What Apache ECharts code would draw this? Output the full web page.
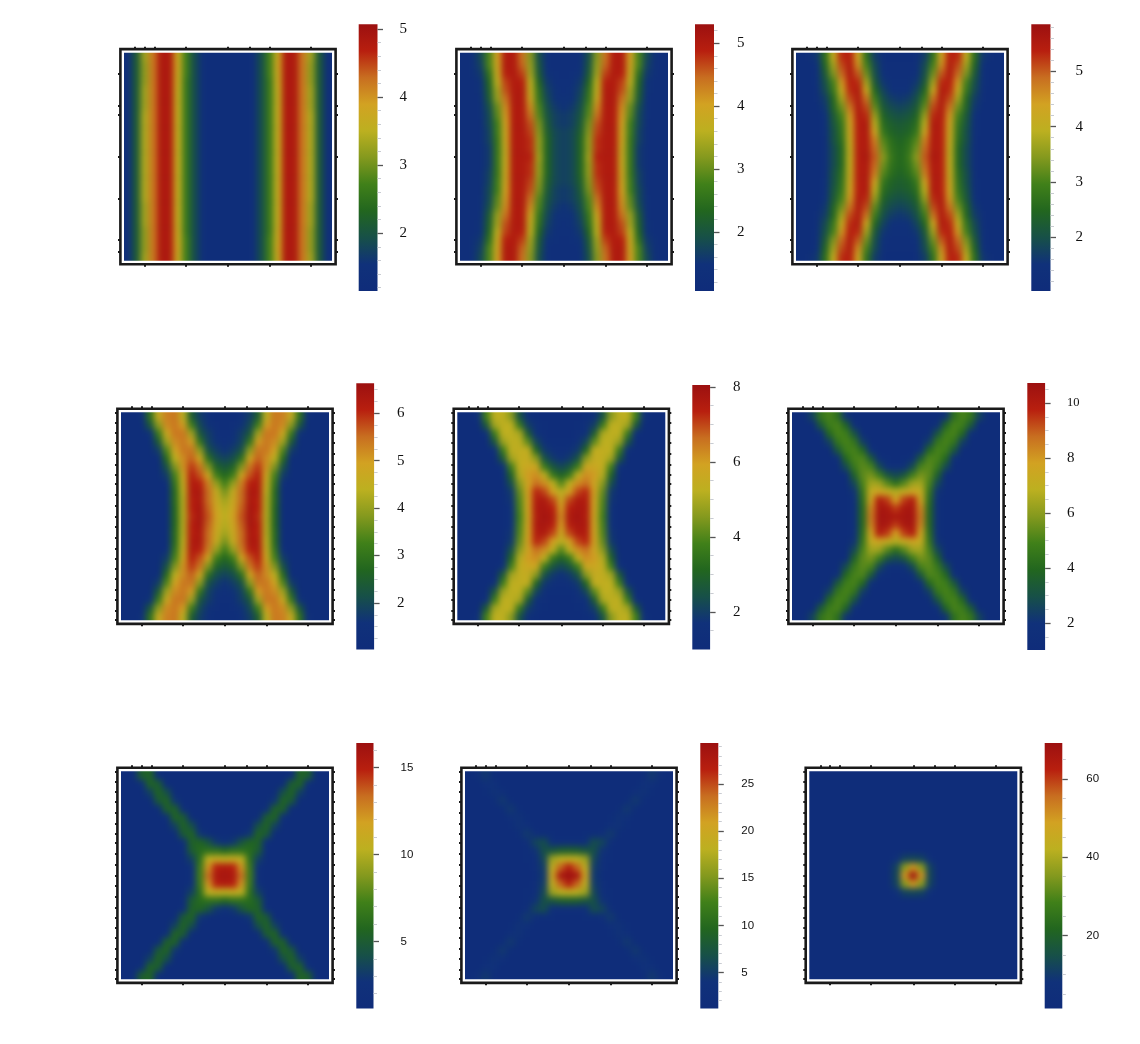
<!DOCTYPE html>
<html><head><meta charset="utf-8">
<script src="https://cdn.jsdelivr.net/npm/echarts@6/dist/echarts.min.js"></script>
<style>
html,body{margin:0;padding:0;background:#fff}
#clip,#blur,#top{position:absolute;left:0;top:0;width:1140px;height:1044px}
#blur{filter:blur(3px)}
</style></head><body>
<div id="clip"><div id="blur"></div></div><div id="top"></div>
<script>
// Each panel: top-left quadrant (rows top edge -> centre, columns left edge -> centre)
const panel1=[
[1.4,2.1,3.3,4.2,4.8,4.8,3.7,2.7,1.9,1.4,1.3,1.3,1.3],
[1.4,2.1,3.2,4.2,4.8,4.8,3.8,2.7,1.9,1.4,1.3,1.3,1.3],
[1.4,2.1,3.2,4.2,4.8,4.8,3.7,2.7,1.9,1.4,1.3,1.3,1.3],
[1.4,2.1,3.2,4.2,4.8,4.8,3.7,2.6,1.9,1.4,1.3,1.3,1.3],
[1.4,2.1,3.3,4.2,4.8,4.8,3.6,2.6,1.9,1.4,1.3,1.3,1.3],
[1.4,2.1,3.3,4.2,4.8,4.8,3.6,2.6,1.9,1.4,1.3,1.3,1.3],
[1.4,2.1,3.3,4.2,4.8,4.8,3.6,2.6,1.9,1.4,1.3,1.3,1.3],
[1.4,2.1,3.4,4.2,4.8,4.8,3.6,2.6,1.9,1.4,1.3,1.3,1.3],
[1.4,2.1,3.4,4.2,4.8,4.8,3.6,2.6,1.9,1.4,1.3,1.3,1.3],
[1.4,2.1,3.4,4.2,4.8,4.8,3.6,2.6,1.9,1.4,1.3,1.3,1.3],
[1.4,2.1,3.4,4.2,4.8,4.8,3.6,2.6,1.9,1.4,1.3,1.3,1.3],
[1.4,2.1,3.4,4.2,4.8,4.8,3.6,2.6,1.9,1.4,1.3,1.3,1.3],
[1.4,2.1,3.4,4.2,4.8,4.8,3.6,2.6,1.9,1.4,1.3,1.3,1.3]];
const panel2=[
[1.3,1.4,1.8,2.8,4.0,5.0,5.0,4.4,3.2,1.9,1.4,1.3,1.3],
[1.3,1.4,1.7,2.8,3.9,5.0,5.0,4.5,3.3,2.0,1.4,1.3,1.3],
[1.3,1.4,1.6,2.5,3.8,4.9,5.0,4.7,3.4,2.1,1.5,1.4,1.3],
[1.3,1.3,1.5,2.3,3.6,4.7,5.0,4.9,3.6,2.3,1.6,1.4,1.4],
[1.3,1.3,1.5,2.2,3.4,4.6,5.0,5.0,3.7,2.5,1.7,1.5,1.4],
[1.3,1.3,1.4,2.1,3.3,4.4,5.0,5.0,3.9,2.6,1.8,1.5,1.5],
[1.3,1.3,1.4,1.9,3.0,4.2,5.0,5.0,4.2,2.8,1.9,1.6,1.5],
[1.3,1.3,1.4,1.8,2.9,4.1,5.0,5.0,4.4,2.9,2.0,1.7,1.6],
[1.3,1.3,1.3,1.8,2.7,4.0,5.0,5.0,4.6,3.1,2.1,1.7,1.6],
[1.3,1.3,1.3,1.7,2.7,3.9,5.0,5.0,4.7,3.2,2.2,1.8,1.7],
[1.3,1.3,1.3,1.7,2.6,3.9,5.0,5.0,4.8,3.3,2.3,1.8,1.7],
[1.3,1.3,1.3,1.6,2.6,3.8,5.0,5.0,4.8,3.3,2.3,1.8,1.7],
[1.3,1.3,1.3,1.6,2.6,3.8,5.0,5.0,4.9,3.4,2.3,1.8,1.7]];
const panel3=[
[1.2,1.3,1.6,2.6,4.0,5.3,5.4,4.3,2.7,1.7,1.3,1.2,1.2],
[1.2,1.2,1.5,2.4,3.7,5.1,5.5,4.6,3.0,1.9,1.4,1.3,1.3],
[1.2,1.2,1.4,2.2,3.4,4.9,5.5,5.0,3.3,2.0,1.5,1.3,1.3],
[1.2,1.2,1.4,2.0,3.0,4.5,5.4,5.3,3.7,2.2,1.6,1.4,1.4],
[1.2,1.2,1.3,1.9,2.8,4.1,5.3,5.5,4.2,2.5,1.8,1.5,1.5],
[1.2,1.2,1.3,1.7,2.5,3.7,5.1,5.5,4.8,2.9,2.0,1.7,1.6],
[1.2,1.2,1.2,1.6,2.4,3.3,4.8,5.5,5.1,3.2,2.2,1.9,1.8],
[1.2,1.2,1.2,1.5,2.2,3.0,4.5,5.5,5.3,3.6,2.4,2.1,2.0],
[1.2,1.2,1.2,1.4,2.1,2.8,4.3,5.4,5.5,3.9,2.6,2.3,2.2],
[1.2,1.2,1.2,1.4,2.0,2.7,4.2,5.4,5.5,4.3,2.8,2.4,2.3],
[1.2,1.2,1.2,1.3,2.0,2.6,4.1,5.4,5.5,4.7,3.1,2.6,2.4],
[1.2,1.2,1.2,1.3,1.9,2.5,4.0,5.4,5.5,4.9,3.3,2.7,2.5],
[1.2,1.2,1.2,1.3,1.9,2.5,4.0,5.4,5.6,5.0,3.5,2.8,2.5]];
const panel4=[
[1.2,1.2,1.5,2.9,4.6,5.3,5.4,4.4,2.5,1.8,1.5,1.3,1.2],
[1.2,1.2,1.2,2.3,3.9,5.2,5.4,5.0,3.2,2.0,1.6,1.4,1.3],
[1.2,1.2,1.2,1.6,3.1,4.7,5.4,5.4,4.1,2.3,1.8,1.5,1.4],
[1.2,1.2,1.2,1.3,2.4,4.1,5.2,5.4,5.0,3.0,1.9,1.6,1.5],
[1.2,1.2,1.2,1.2,1.8,3.4,4.9,5.4,5.4,3.9,2.2,1.8,1.6],
[1.2,1.2,1.2,1.2,1.3,2.8,4.4,5.2,5.6,4.8,2.9,2.1,1.9],
[1.2,1.2,1.2,1.2,1.2,2.2,3.8,5.1,5.9,5.4,3.8,2.6,2.3],
[1.2,1.2,1.2,1.2,1.2,1.8,3.3,4.8,6.1,5.7,4.8,3.2,2.7],
[1.2,1.2,1.2,1.2,1.2,1.4,3.0,4.6,6.2,6.1,5.3,4.0,3.2],
[1.2,1.2,1.2,1.2,1.2,1.3,2.8,4.4,6.2,6.3,5.5,4.6,3.7],
[1.2,1.2,1.2,1.2,1.2,1.3,2.8,4.3,6.1,6.3,5.5,4.7,4.1],
[1.2,1.2,1.2,1.2,1.2,1.2,2.7,4.3,6.1,6.4,5.6,4.8,4.3],
[1.2,1.2,1.2,1.2,1.2,1.2,2.7,4.3,6.0,6.4,5.7,4.9,4.4]];
const panel5=[
[1.2,1.2,1.7,3.8,5.3,5.3,4.6,2.5,1.6,1.3,1.2,1.2,1.2],
[1.2,1.2,1.2,2.7,4.9,5.3,5.3,3.6,2.0,1.5,1.3,1.2,1.2],
[1.2,1.2,1.2,1.6,3.7,5.3,5.3,5.0,2.8,1.7,1.4,1.2,1.2],
[1.2,1.2,1.2,1.2,2.6,4.8,5.3,5.3,4.1,2.2,1.6,1.3,1.3],
[1.2,1.2,1.2,1.2,1.6,3.7,5.3,5.4,5.4,3.1,1.9,1.5,1.4],
[1.2,1.2,1.2,1.2,1.2,2.7,4.9,5.4,5.5,4.6,2.5,1.9,1.7],
[1.2,1.2,1.2,1.2,1.2,1.7,3.8,5.4,5.7,5.7,3.7,2.6,2.2],
[1.2,1.2,1.2,1.2,1.2,1.3,3.0,5.1,6.0,6.2,5.3,3.6,3.0],
[1.2,1.2,1.2,1.2,1.2,1.2,2.4,4.6,5.8,6.6,6.2,5.3,4.0],
[1.2,1.2,1.2,1.2,1.2,1.2,1.9,4.2,5.9,7.3,7.0,5.9,5.2],
[1.2,1.2,1.2,1.2,1.2,1.2,1.8,4.0,5.8,7.5,7.6,7.0,5.6],
[1.2,1.2,1.2,1.2,1.2,1.2,1.7,3.9,5.8,7.6,7.7,7.4,6.0],
[1.2,1.2,1.2,1.2,1.2,1.2,1.7,3.8,5.7,7.5,7.8,7.6,6.2]];
const panel6=[
[1.2,1.2,2.6,4.5,5.0,4.3,2.1,1.3,1.2,1.2,1.2,1.2,1.2],
[1.2,1.2,1.2,3.4,4.8,5.0,3.8,1.8,1.3,1.2,1.2,1.2,1.2],
[1.2,1.2,1.2,1.7,4.0,5.0,4.8,3.1,1.5,1.2,1.2,1.2,1.2],
[1.2,1.2,1.2,1.2,2.5,4.5,5.0,4.5,2.4,1.3,1.2,1.2,1.2],
[1.2,1.2,1.2,1.2,1.3,3.3,4.8,5.0,4.0,1.9,1.3,1.2,1.2],
[1.2,1.2,1.2,1.2,1.2,1.7,4.0,5.0,5.1,3.4,1.7,1.4,1.3],
[1.2,1.2,1.2,1.2,1.2,1.2,2.8,4.6,5.3,5.0,2.8,1.9,1.7],
[1.2,1.2,1.2,1.2,1.2,1.2,1.2,3.7,5.3,5.7,4.8,3.2,2.7],
[1.2,1.2,1.2,1.2,1.2,1.2,1.2,2.7,5.0,6.4,6.3,5.2,4.2],
[1.2,1.2,1.2,1.2,1.2,1.2,1.2,2.1,4.5,7.2,7.6,7.2,6.7],
[1.2,1.2,1.2,1.2,1.2,1.2,1.2,1.8,4.2,7.6,10.0,9.4,7.8],
[1.2,1.2,1.2,1.2,1.2,1.2,1.2,1.8,4.0,8.3,10.3,10.2,9.4],
[1.2,1.2,1.2,1.2,1.2,1.2,1.2,1.8,4.0,8.5,10.4,10.3,10.2]];
const panel7=[
[1.5,1.7,5.2,5.5,2.1,1.5,1.5,1.5,1.5,1.5,1.5,1.5,1.5],
[1.5,1.5,2.3,5.5,5.1,1.7,1.5,1.5,1.5,1.5,1.5,1.5,1.5],
[1.5,1.5,1.5,3.4,5.6,4.2,1.5,1.5,1.5,1.5,1.5,1.5,1.5],
[1.5,1.5,1.5,1.6,4.8,5.6,2.9,1.5,1.5,1.5,1.5,1.5,1.5],
[1.5,1.5,1.5,1.5,1.8,5.3,5.4,2.0,1.5,1.5,1.5,1.5,1.5],
[1.5,1.5,1.5,1.5,1.5,2.5,5.6,5.0,1.7,1.5,1.5,1.5,1.5],
[1.5,1.5,1.5,1.5,1.5,1.5,3.5,5.6,4.2,1.6,1.5,1.5,1.5],
[1.5,1.5,1.5,1.5,1.5,1.5,1.6,4.9,5.6,2.9,1.8,1.6,1.5],
[1.5,1.5,1.5,1.5,1.5,1.5,1.5,2.0,5.4,5.6,4.5,3.0,2.6],
[1.5,1.5,1.5,1.5,1.5,1.5,1.5,1.9,5.0,6.0,6.4,6.4,5.8],
[1.5,1.5,1.5,1.5,1.5,1.5,1.5,1.6,3.4,6.2,10.4,10.8,10.4],
[1.5,1.5,1.5,1.5,1.5,1.5,1.5,1.5,2.4,6.8,12.2,15.0,15.3],
[1.5,1.5,1.5,1.5,1.5,1.5,1.5,1.5,2.2,7.0,13.2,15.5,15.8]];
const panel8=[
[2,2.7,4.6,2.2,2,2,2,2,2,2,2,2,2],
[2,2,3.4,4.0,2,2,2,2,2,2,2,2,2],
[2,2,2.2,4.1,3.2,2,2,2,2,2,2,2,2],
[2,2,2,2.2,4.6,2.5,2,2,2,2,2,2,2],
[2,2,2,2,2.5,4.6,2.2,2,2,2,2,2,2],
[2,2,2,2,2,3.2,4.1,2.2,2,2,2,2,2],
[2,2,2,2,2,2.2,4.1,3.4,2,2,2,2,2],
[2,2,2,2,2,2,2.2,4.8,3.0,2.3,2.1,2,2],
[2,2,2,2,2,2,2,3.0,5.8,6.5,3.6,2.8,2.6],
[2,2,2,2,2,2,2,2.4,4.2,6.8,7.6,8.6,8.8],
[2,2,2,2,2,2,2,2.1,3.0,6.0,16.5,18.0,18.5],
[2,2,2,2,2,2,2,2,2.6,5.2,18.5,24.0,27.0],
[2,2,2,2,2,2,2,2,2.4,4.8,20.0,28.0,29.3]];
const panel9=[
[3,3,3,3,3,3,3,3,3,3,3,3,3],
[3,3,3,3,3,3,3,3,3,3,3,3,3],
[3,3,3,3,3,3,3,3,3,3,3,3,3],
[3,3,3,3,3,3,3,3,3,3,3,3,3],
[3,3,3,3,3,3,3,3,3,3,3,3,3],
[3,3,3,3,3,3,3,3,3,3,3,3,3],
[3,3,3,3,3,3,3,3,3,3,3,3,3],
[3,3,3,3,3,3,3,3,3,3,3,3,3],
[3,3,3,3,3,3,3,3,3,3,3,3,3],
[3,3,3,3,3,3,3,3,3,3,3,3,3],
[3,3,3,3,3,3,3,3,3,3,7,12,13],
[3,3,3,3,3,3,3,3,3,3,12,36,50],
[3,3,3,3,3,3,3,3,3,3,13,50,69]];
const panels=[panel1,panel2,panel3,panel4,panel5,panel6,panel7,panel8,panel9];

// Colour-bar ranges and tick labels
const ranges=[[1.15,5.07],[1.06,5.3],[1.03,5.85],[1.02,6.63],[1.0,8.05],[1.02,10.73],[1.15,16.4],[1.17,29.36],[1.3,69.2]];
const majorTicks=[[2,3,4,5],[2,3,4,5],[2,3,4,5],[2,3,4,5,6],[2,4,6,8],[2,4,6,8,10],[5,10,15],[5,10,15,20,25],[20,40,60]];
const minorTicks=[
[1.2,1.4,1.6,1.8,2.2,2.4,2.6,2.8,3.2,3.4,3.6,3.8,4.2,4.4,4.6,4.8],
[1.2,1.4,1.6,1.8,2.2,2.4,2.6,2.8,3.2,3.4,3.6,3.8,4.2,4.4,4.6,4.8,5.2],
[1.2,1.4,1.6,1.8,2.2,2.4,2.6,2.8,3.2,3.4,3.6,3.8,4.2,4.4,4.6,4.8,5.2,5.4,5.6,5.8],
[1.25,1.5,1.75,2.25,2.5,2.75,3.25,3.5,3.75,4.25,4.5,4.75,5.25,5.5,5.75,6.25,6.5],
[1.5,2.5,3,3.5,4.5,5,5.5,6.5,7,7.5],
[1.5,2.5,3,3.5,4.5,5,5.5,6.5,7,7.5,8.5,9,9.5,10.5],
[2,3,4,6,7,8,9,11,12,13,14,16],
[2,3,4,6,7,8,9,11,12,13,14,16,17,18,19,21,22,23,24,26,27,28,29],
[5,10,15,25,30,35,45,50,55,65]];
const frameX=[.113,.304,.5,.694,.884];
const frameTopX=[.069,.113,.16,.304,.5,.6,.694,.884];
const sparseY=[.06,.113,.304,.5,.694,.736,.884];
const denseY=[.02,.06,.11,.158,.208,.257,.303,.35,.4,.45,.5,.55,.6,.65,.694,.74,.79,.84,.886,.935,.98];
const scaleColors=['#0f2c7a','#10317a','#175048','#22661f','#408019','#84991e','#bcb020','#d2a222','#c86e20','#b81f0f','#9c1010'];

// Layout in page pixels: plot interior, colour bar, label gap, font
const SIZE=208;
const plotAt=[[124,52.7],[460,52.7],[796,52.7],[121,412.3],[457.3,412.3],[792,412.3],[121,771.3],[465,771.3],[809.3,771.3]];
const barAt=[[358.7,24.3,18.8,266.7],[695,24.3,19,266.7],[1031.3,24.3,19.2,266.7],[356.3,383.3,17.8,266.2],[692.3,385,17.8,264.4],[1027.3,383,17.8,267],[356.3,743,17.2,265.5],[700.3,743,18,265.5],[1044.7,743,17.6,265.5]];
const labelGap=[22,23,25,23,23,22,27,23,24];
const labelFont=[['Liberation Serif',15],['Liberation Serif',15],['Liberation Serif',15],['Liberation Serif',15],['Liberation Serif',15],['Liberation Serif',15],['Liberation Sans',11.5],['Liberation Sans',11.5],['Liberation Sans',11.5]];

const N=25, PAD=1; // one repeated edge cell each side sits hidden under the frame
const cats=Array.from({length:N+2*PAD},(_,i)=>String(i));
function fullRows(q){
  const rows=[];
  for(let r=0;r<N;r++){const rr=r<=12?r:24-r;const row=[];
    for(let c=0;c<N;c++){row.push(q[rr][c<=12?c:24-c]);}
    rows.push(row);}
  return rows;
}
const cell=SIZE/N;
const bg={animation:false,backgroundColor:'transparent',grid:[],xAxis:[],yAxis:[],visualMap:[],series:[]};
panels.forEach((q,i)=>{
  const rows=fullRows(q),data=[];
  for(let y=0;y<N+2*PAD;y++)for(let x=0;x<N+2*PAD;x++){
    const ry=Math.min(N-1,Math.max(0,y-PAD)),rx=Math.min(N-1,Math.max(0,x-PAD));
    data.push([x,y,rows[ry][rx]]);
  }
  bg.grid.push({show:true,borderWidth:0,backgroundColor:'#10317a',left:plotAt[i][0]-PAD*cell,top:plotAt[i][1]-PAD*cell,width:SIZE+2*PAD*cell,height:SIZE+2*PAD*cell});
  bg.xAxis.push({type:'category',gridIndex:i,data:cats,show:false});
  bg.yAxis.push({type:'category',gridIndex:i,data:cats,show:false});
  bg.visualMap.push({show:false,seriesIndex:i,dimension:2,min:ranges[i][0],max:ranges[i][1],inRange:{color:scaleColors}});
  bg.series.push({type:'heatmap',xAxisIndex:i,yAxisIndex:i,data:data,progressive:0,silent:true,itemStyle:{borderWidth:0}});
});
const rects=plotAt.map(p=>{const x=p[0]-3,y=p[1]-3,s=SIZE+6;return `M${x} ${y}H${x+s}V${y+s}H${x}Z`;}).join(' ');
document.getElementById('clip').style.clipPath=`path('${rects}')`;
echarts.init(document.getElementById('blur'),null,{renderer:'canvas'}).setOption(bg);

const stops=scaleColors.map((c,k)=>({offset:k/(scaleColors.length-1),color:c}));
const top_={animation:false,backgroundColor:'transparent',grid:[],xAxis:[],yAxis:[],graphic:{elements:[]}};
plotAt.forEach((p,i)=>{
  const [x,y]=p;
  top_.grid.push({show:true,left:x-1.6,top:y-1.6,width:SIZE+3.2,height:SIZE+3.2,backgroundColor:'transparent',borderColor:'#fff',borderWidth:3.2});
  let g=top_.grid.length-1;
  top_.xAxis.push({type:'value',gridIndex:g,show:false,min:0,max:1});
  top_.yAxis.push({type:'value',gridIndex:g,show:false,min:0,max:1});
  top_.grid.push({show:true,left:x-3.6,top:y-3.6,width:SIZE+7.2,height:SIZE+7.2,backgroundColor:'transparent',borderColor:'#1a1a1a',borderWidth:2.6});
  g=top_.grid.length-1;
  const yt=i<3?sparseY:denseY;
  const tk=(vals)=>({show:true,inside:false,length:2.4,customValues:vals,lineStyle:{color:'#1a1a1a',width:2}});
  const base=(pos,vals)=>({type:'value',gridIndex:g,min:0,max:1,position:pos,splitLine:{show:false},axisLine:{show:false,onZero:false},axisLabel:{show:false,customValues:vals},axisTick:tk(vals)});
  top_.xAxis.push(base('bottom',frameX),base('top',frameTopX));
  top_.yAxis.push(base('left',yt),base('right',yt));
  const b=barAt[i];
  top_.graphic.elements.push({type:'rect',silent:true,shape:{x:b[0],y:b[1],width:b[2],height:b[3]},
    style:{fill:new echarts.graphic.LinearGradient(0,1,0,0,stops)}});
  top_.grid.push({show:false,left:b[0],top:b[1],width:b[2],height:b[3]});
  g=top_.grid.length-1;
  top_.xAxis.push({type:'value',gridIndex:g,show:false,min:0,max:1});
  top_.yAxis.push({type:'value',gridIndex:g,position:'right',min:ranges[i][0],max:ranges[i][1],splitLine:{show:false},axisLine:{show:false,onZero:false},
    axisTick:{show:true,length:3.5,customValues:minorTicks[i],lineStyle:{color:'#c9ccd2',width:1}},axisLabel:{show:false,customValues:minorTicks[i]}});
  top_.yAxis.push({type:'value',gridIndex:g,position:'right',min:ranges[i][0],max:ranges[i][1],splitLine:{show:false},axisLine:{show:false,onZero:false},
    axisTick:{show:true,length:5.5,customValues:majorTicks[i],lineStyle:{color:'#555',width:1.3}},
    axisLabel:{show:true,customValues:majorTicks[i],margin:labelGap[i],color:'#111',fontFamily:labelFont[i][0],fontSize:labelFont[i][1],
      formatter:v=>(v>=10&&i<6)?'{s|'+v+'}':String(v),rich:{s:{fontSize:12.5,fontFamily:labelFont[i][0],color:'#111'}}}});
});
echarts.init(document.getElementById('top'),null,{renderer:'canvas'}).setOption(top_);
</script>
</body></html>
